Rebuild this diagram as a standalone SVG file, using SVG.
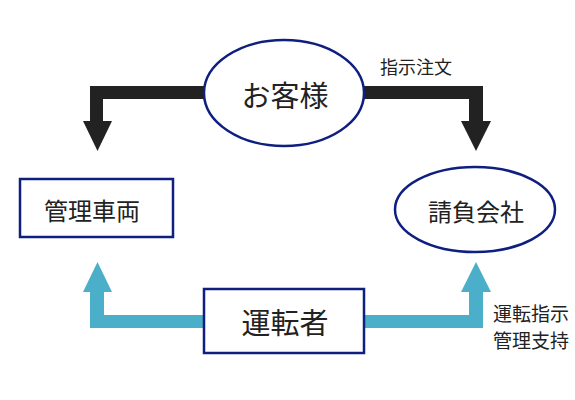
<svg xmlns="http://www.w3.org/2000/svg" width="575" height="400" viewBox="0 0 575 400">
  <style>
    .node { fill: #ffffff; stroke: #0f1f80; stroke-width: 2.5; }
    .lbl { font-family: "Noto Sans CJK JP", "Noto Sans", sans-serif; fill: #222222; text-anchor: middle; dominant-baseline: central; }
    .dark { fill: #222222; }
    .blue { fill: #4bafca; }
  </style>
  <rect width="575" height="400" fill="#ffffff"/>
  <g id="connectors">
    <path class="dark" d="M284 86 H90 V121 H83 L97.5 151 L112 121 H103 V99 H284 Z"/>
    <path class="dark" d="M284 86 H483 V121 H491 L476 151 L461 121 H469 V99 H284 Z"/>
    <path class="blue" d="M284 328 H90 V292 H83 L97.5 262 L112 292 H104 V315 H284 Z"/>
    <path class="blue" d="M284 315 H469 V292 H461 L476 262 L491 292 H483 V328 H284 Z"/>
    <text class="lbl" x="416" y="66" font-size="18">指示注文</text>
    <text class="lbl" x="531" y="312" font-size="19">運転指示</text>
    <text class="lbl" x="531" y="339" font-size="19">管理支持</text>
  </g>
  <g id="customer">
    <ellipse class="node" cx="284" cy="93" rx="80" ry="53"/>
    <text class="lbl" x="285" y="94" font-size="29">お客様</text>
  </g>
  <g id="vehicle-management">
    <rect class="node" x="20" y="179" width="153" height="58" stroke-width="2"/>
    <text class="lbl" x="92" y="209" font-size="24">管理車両</text>
  </g>
  <g id="contractor">
    <ellipse class="node" cx="475" cy="209.5" rx="80" ry="42.5"/>
    <text class="lbl" x="476" y="210" font-size="24">請負会社</text>
  </g>
  <g id="driver">
    <rect class="node" x="204" y="289" width="160" height="64" stroke-width="2"/>
    <text class="lbl" x="285" y="321" font-size="29">運転者</text>
  </g>
</svg>
